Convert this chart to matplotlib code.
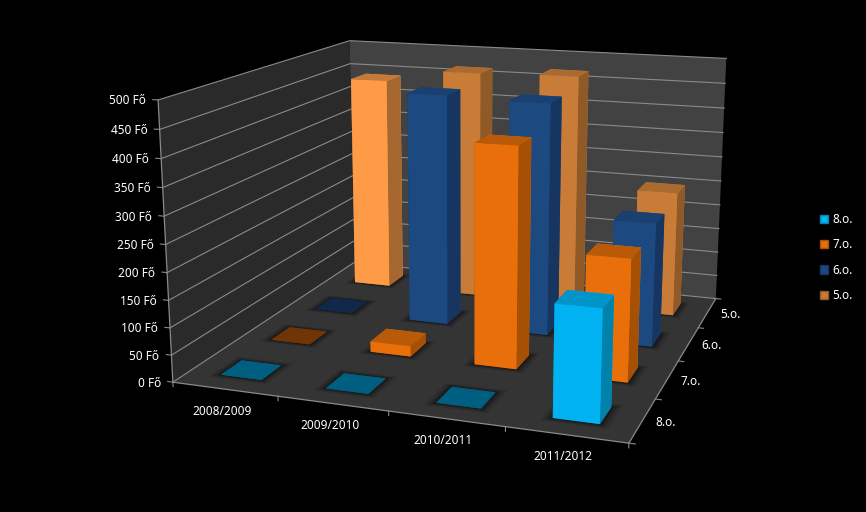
import numpy as np
import matplotlib
matplotlib.use('Agg')
import matplotlib.pyplot as plt
import matplotlib.patches as mpatches
from mpl_toolkits.mplot3d import proj3d
from mpl_toolkits.mplot3d.art3d import Poly3DCollection

years = ['2008/2009', '2009/2010', '2010/2011', '2011/2012']
grades = ['8.o.', '7.o.', '6.o.', '5.o.']
z_ticks = [0, 50, 100, 150, 200, 250, 300, 350, 400, 450, 500]

# front row to back row
v_8 = [0, 0, 0, 197]
v_7 = [0, 20, 409, 225]
v_6 = [0, 453, 450, 238]
v_5 = [440, 466, 470, 250]
values = [v_8, v_7, v_6, v_5]

# front, side, top, colour of the empty tile
cols = {
    '8.o.': ('#00b2f2', '#0082ab', '#0094c8', '#005f80'),
    '7.o.': ('#e96f0a', '#a65005', '#b85a08', '#703507'),
    '6.o.': ('#1c4a80', '#163560', '#19406f', '#10284a'),
    '5.o.': ('#c87c37', '#8f5a28', '#a96b30', '#6b4a28'),
}
# the one point with its own colour
special = {(3, 0): ('#ff9a47', '#a66830', '#c47a3a', '#6b4a28')}

GRAY = '#8a8a8a'
FS = 8.5
plt.rcParams['font.family'] = ['Noto Sans', 'DejaVu Sans']

fig = plt.figure(figsize=(8.66, 5.12), dpi=100, facecolor='black')
ax = fig.add_axes([27.23 / 866, 39.06 / 512, 1, 1], projection='3d', facecolor='black')
ax.set_proj_type('persp', focal_length=0.5275)
ax.view_init(elev=14.13, azim=-70.84)
ax.set_box_aspect((1, 0.9754, 0.6137), zoom=1.2609)
ax.set_xlim(0, 4)
ax.set_ylim(0, 4)
ax.set_zlim(0, 500)
ax.computed_zorder = False

ax.set_xticks([])
ax.set_yticks([])
ax.set_zticks([])
ax.grid(False)
for a in (ax.xaxis, ax.yaxis, ax.zaxis):
    a.line.set_color((0, 0, 0, 0))
    a.set_pane_color((0, 0, 0, 0))
    a.pane.set_edgecolor((0, 0, 0, 0))


def line3d(xs, ys, zs, lw=0.8):
    ax.plot(xs, ys, zs, color=GRAY, lw=lw, zorder=1, clip_on=False)


def label3d(x, y, z, txt, dx, dy, ha='center'):
    # project by hand so the label is a plain 2D text at its place
    px, py, _ = proj3d.proj_transform(x, y, z, ax.get_proj())
    ax.annotate(txt, xy=(px, py), xycoords='data', xytext=(dx, dy), textcoords='offset pixels',
                color='white', fontsize=FS, ha=ha, va='center', annotation_clip=False)


# walls and floor
wall_left = [[(0, 0, 0), (0, 4, 0), (0, 4, 500), (0, 0, 500)]]
wall_back = [[(0, 4, 0), (4, 4, 0), (4, 4, 500), (0, 4, 500)]]
floor = [[(0, 0, 0), (4, 0, 0), (4, 4, 0), (0, 4, 0)]]
for poly, c in ((wall_left, '#2a2a2a'), (wall_back, '#424242'), (floor, '#343434')):
    ax.add_collection3d(Poly3DCollection(poly, facecolor=c, edgecolor='none', zorder=0, clip_on=False))

# grid on both walls
for z in z_ticks:
    line3d([0, 0, 4], [0, 4, 4], [z, z, z])
    line3d([0, -0.05], [0, 0], [z, z])
    label3d(0, 0, z, f'{z} Fő', -12, -1, ha='right')

# box edges and ticks
line3d([0, 0], [0, 0], [0, 500], lw=0.9)
line3d([0, 4, 4], [0, 0, 4], [0, 0, 0], lw=0.9)
for i in range(5):
    line3d([i, i], [0, 0], [0, -8])
    line3d([4, 4.05], [i, i], [0, 0])

for i, year in enumerate(years):
    label3d(i + 0.5, 0, 0, year, -3, -22)
for j, grade in enumerate(grades):
    label3d(4, j + 0.5, 0, grade, 23, -2)

W = 0.39
order = 10
for j in range(3, -1, -1):
    for i in range(4):
        x0 = i + (1 - W) / 2
        y0 = j + (1 - W) / 2
        # soft shadow on the floor
        for g, a in ((0.08, 0.12), (0.05, 0.18), (0.025, 0.25)):
            sq = [[(x0 - g, y0 - g, 0), (x0 + W + g, y0 - g, 0),
                   (x0 + W + g, y0 + W + g, 0), (x0 - g, y0 + W + g, 0)]]
            ax.add_collection3d(Poly3DCollection(sq, facecolor=(0, 0, 0, a), edgecolor='none',
                                                 zorder=order, clip_on=False))
            order += 1
        front, side, top, empty = special.get((j, i), cols[grades[j]])
        v = values[j][i]
        if v == 0:
            top = front = side = empty
        faces = [side, top, front, front, side, side]
        b = ax.bar3d(x0, y0, 0, W, W, max(v, 0.5), color=faces, shade=False, edgecolor='none', zorder=order)
        b.set_clip_on(False)
        order += 1

handles = [mpatches.Patch(facecolor=cols[g][0], edgecolor=cols[g][1], label=g) for g in grades]
fig.legend(handles=handles, loc='center left', bbox_to_anchor=(0.947, 0.497), frameon=False,
           labelcolor='white', fontsize=FS, labelspacing=1.05, handlelength=0.7, handleheight=0.7,
           handletextpad=0.35, borderaxespad=0, borderpad=0)

fig.savefig('out.png', dpi=100, facecolor='black')
